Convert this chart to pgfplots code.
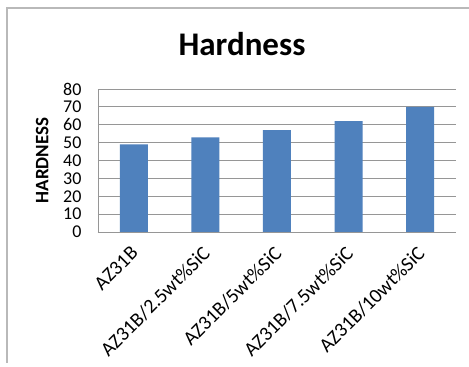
\documentclass[border=0pt]{standalone}
\usepackage{pgfplots}
\pgfplotsset{compat=1.18}
\usepackage{fontspec}
\setmainfont{Carlito}
\definecolor{barblue}{RGB}{79,129,189}
\definecolor{gridgray}{RGB}{150,150,150}
\begin{document}
\begin{tikzpicture}[x=1pt,y=1pt]
\useasboundingbox (0,0) rectangle (469,367);
\fill[white] (0,0) rectangle (469,367);
\draw[gray!55, line width=1.2pt] (7,4) -- (7,359) -- (470,359);
\node[font=\bfseries\fontsize{33}{33}\selectfont] at (242,323) {Hardness};
\begin{axis}[
  at={(98pt,135pt)}, anchor=south west,
  scale only axis, width=358pt, height=143pt,
  xmin=-0.5, xmax=4.5, ymin=0, ymax=80,
  ytick={0,10,...,80},
  xtick={0,1,2,3,4},
  xticklabels={AZ31B, AZ31B/2.5wt\%SiC, AZ31B/5wt\%SiC, AZ31B/7.5wt\%SiC, AZ31B/10wt\%SiC},
  axis x line*=bottom, axis y line*=left,
  axis line style={gridgray, line width=0.9pt, -},
  ymajorgrids, grid style={gridgray, line width=0.9pt},
  major tick length=0pt,
  /pgf/number format/assume math mode=true,
  yticklabel style={font=\fontsize{18}{18}\selectfont, anchor=east, xshift=-13pt},
  xticklabel style={font=\fontsize{20}{20}\selectfont, xshift=-4pt, yshift=-8pt, rotate=45, anchor=north east},
  ylabel={HARDNESS},
  ylabel style={font=\bfseries\fontsize{19}{19}\selectfont, at={(axis description cs:-0.156,0.5)}, anchor=center},
  clip=false,
]
\addplot[ybar, bar width=28pt, fill=barblue, draw=none] coordinates {(0,49) (1,53) (2,57) (3,62) (4,70)};
\end{axis}
\end{tikzpicture}
\end{document}
